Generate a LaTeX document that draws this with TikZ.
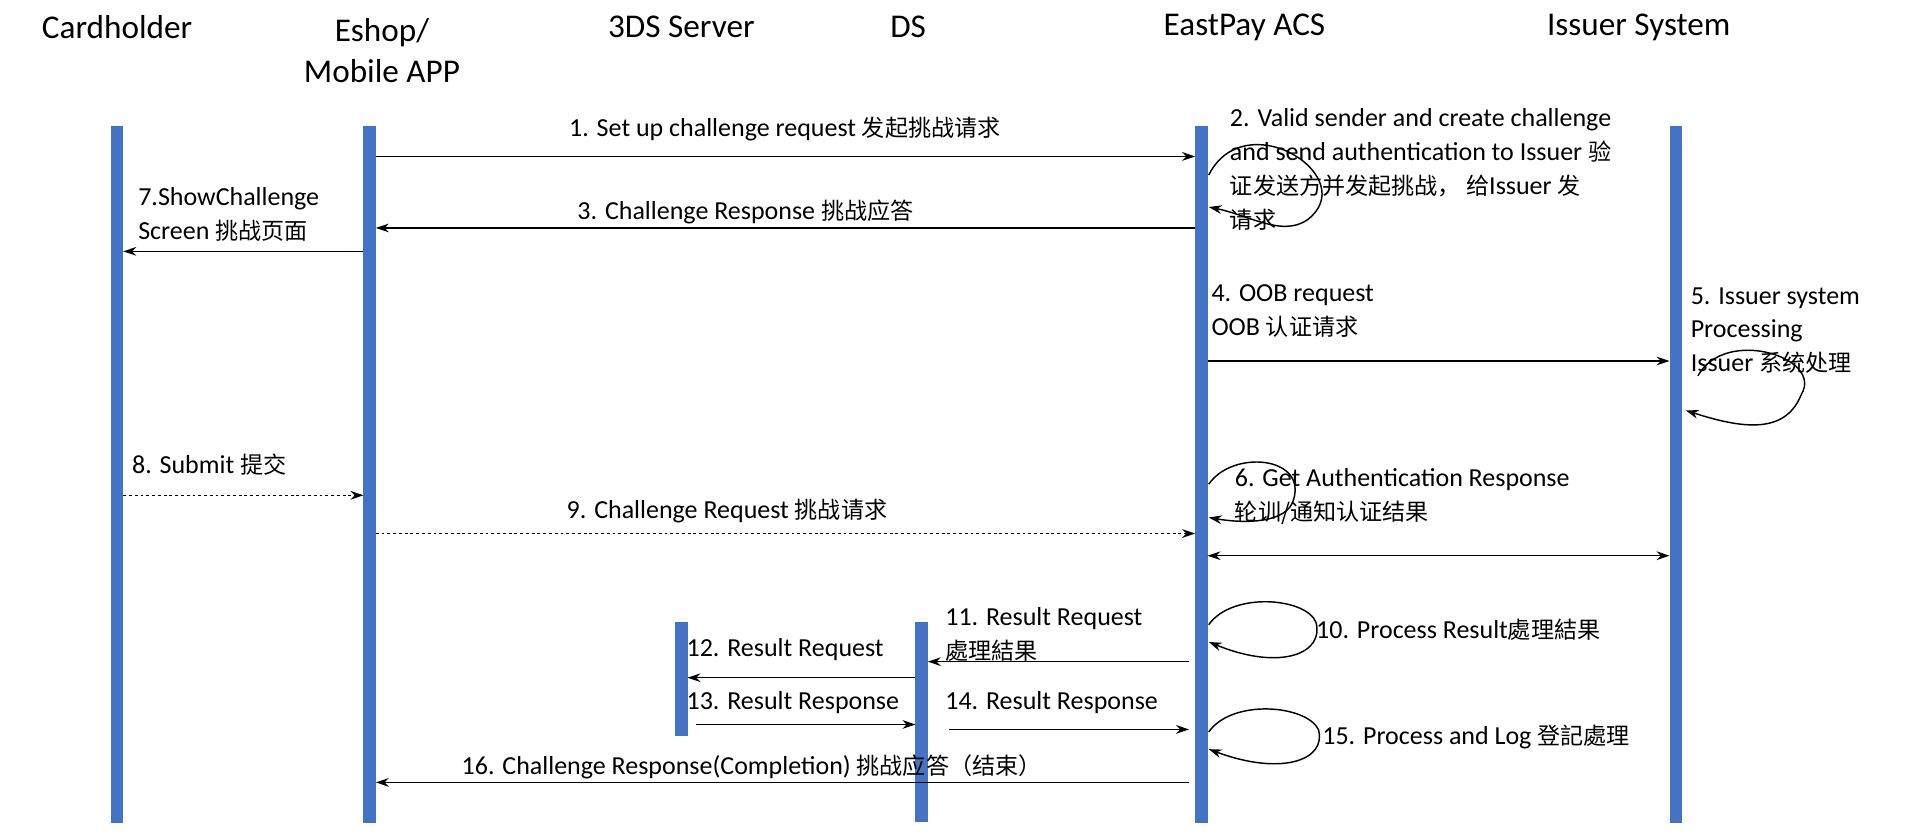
\documentclass[tikz,border=0pt]{standalone}
\usepackage{fontspec}
\setmainfont{Carlito}
\newfontfamily\cjk{Noto Sans CJK SC}
\usetikzlibrary{arrows.meta}
\newcommand{\zh}[1]{{\cjk\fontsize{16}{23}\selectfont #1}}
\begin{document}
\begin{tikzpicture}[x=0.03cm,y=-0.03cm,
  life/.style={draw=none,fill={rgb,255:red,68;green,114;blue,196}},
  head/.style={font=\fontsize{23}{27}\selectfont,align=center},
  lab/.style={font=\fontsize{18}{23.5}\selectfont,inner sep=0pt},
  msg/.style={-{Stealth[length=9pt,width=6pt]},line width=1.1pt},
  dmsg/.style={msg,dash pattern=on 2pt off 2pt},
  loop/.style={-{Stealth[length=9pt,width=6pt]},line width=1pt}]
\useasboundingbox (0,0) rectangle (1568,675);
% lifelines
\fill[life] (90,102) rectangle (100,668);
\fill[life] (295,102) rectangle (305,668);
\fill[life] (548,505) rectangle (558,597);
\fill[life] (743,505) rectangle (753,667);
\fill[life] (970,102) rectangle (980,668);
\fill[life] (1355,102) rectangle (1365,668);
% headers
\node[head] (hc) at (95,22) {Cardholder};
\node[head] (he) at (310,41) {Eshop/\\[1pt]Mobile APP};
\node[head] (hs) at (553,22) {3DS Server};
\node[head] (hd) at (737,22) {DS};
\node[head] (ha) at (1010,22) {EastPay ACS};
\node[head] (hi) at (1330,22) {Issuer System};
% anchor coordinates
\coordinate (e1) at (305,127); \coordinate (a1) at (970,127);
\coordinate (a3) at (970,185); \coordinate (e3) at (305,185);
\coordinate (e7) at (295,204); \coordinate (c7) at (100,204);
\coordinate (a4) at (980,293); \coordinate (i4) at (1355,293);
\coordinate (c8) at (100,402); \coordinate (e8) at (295,402);
\coordinate (e9) at (305,433); \coordinate (a9) at (970,433);
\coordinate (a6) at (980,451); \coordinate (i6) at (1355,451);
\coordinate (a11) at (965,537); \coordinate (d11) at (753,537);
\coordinate (d12) at (743,550); \coordinate (s12) at (558,550);
\coordinate (s13) at (565,588); \coordinate (d13) at (743,588);
\coordinate (d14) at (770,592); \coordinate (a14) at (965,592);
\coordinate (a16) at (965,635); \coordinate (e16) at (305,635);
% messages
\draw[msg] (e1) -- (a1);
\node[lab] (l1) at (637,105) {1. Set up challenge request \zh{发起挑战请求}};
\draw[msg] (a3) -- (e3);
\node[lab] (l3) at (605,172) {3. Challenge Response \zh{挑战应答}};
\draw[msg] (e7) -- (c7);
\node[lab,anchor=north west,align=left] (l7) at (112,152) {7.ShowChallenge\\Screen \zh{挑战页面}};
\draw[msg] (a4) -- (i4);
\node[lab,anchor=north west,align=left] (l4) at (983,231) {4. OOB request\\OOB \zh{认证请求}};
\draw[dmsg] (c8) -- (e8);
\node[lab,anchor=west] (l8) at (107,377) {8. Submit \zh{提交}};
\draw[dmsg] (e9) -- (a9);
\node[lab] (l9) at (590,415) {9. Challenge Request \zh{挑战请求}};
\draw[{Stealth[length=9pt,width=6pt]}-{Stealth[length=9pt,width=6pt]},line width=1.1pt] (a6) -- (i6);
\draw[msg] (a11) -- (d11);
\node[lab,anchor=north west,align=left] (l11) at (767,493) {11. Result Request\\\zh{處理結果}};
\draw[msg] (d12) -- (s12);
\node[lab,anchor=west] (l12) at (557,527) {12. Result Request};
\draw[msg] (s13) -- (d13);
\node[lab,anchor=west] (l13) at (557,570) {13. Result Response};
\draw[msg] (d14) -- (a14);
\node[lab,anchor=west] (l14) at (767,570) {14. Result Response};
\draw[msg] (a16) -- (e16);
\node[lab] (l16) at (610,622) {16. Challenge Response(Completion) \zh{挑战应答（结束）}};
% self loops
\coordinate (s2a) at (981,142); \coordinate (s2b) at (981,168);
\draw[loop] (s2a) .. controls (1010,85) and (1100,140) .. (1065,175) .. controls (1045,195) and (1015,175) .. (s2b);
\node[lab,anchor=north west,align=left] (l2) at (998,88) {2. Valid sender and create challenge\\and send authentication to Issuer \zh{验}\\\zh{证发送方并发起挑战，\ 给}Issuer \zh{发}\\\zh{请求}};
\coordinate (s5b) at (1368,333);
\draw[loop] (1378,305) .. controls (1400,265) and (1480,290) .. (1462,320) .. controls (1450,350) and (1420,350) .. (s5b);
\node[lab,anchor=north west,align=left] (l5) at (1372,233) {5. Issuer system\\Processing\\Issuer \zh{系统处理}};
\coordinate (s6a) at (981,393); \coordinate (s6b) at (981,420);
\draw[loop] (s6a) .. controls (1000,365) and (1060,370) .. (1050,405) .. controls (1045,425) and (1010,425) .. (s6b);
\node[lab,anchor=north west,align=left] (l6) at (1002,380) {6. Get Authentication Response\\\zh{轮训/通知认证结果}};
\coordinate (s10a) at (981,507); \coordinate (s10b) at (981,521);
\draw[loop] (s10a) .. controls (1000,480) and (1060,485) .. (1068,505) .. controls (1075,530) and (1040,545) .. (s10b);
\node[lab,anchor=west] (l10) at (1068,511) {10. Process Result\zh{處理結果}};
\coordinate (s15a) at (981,594); \coordinate (s15b) at (981,608);
\draw[loop] (s15a) .. controls (1000,567) and (1060,572) .. (1070,592) .. controls (1077,617) and (1040,630) .. (s15b);
\node[lab,anchor=west] (l15) at (1073,598) {15. Process and Log \zh{登記處理}};
\end{tikzpicture}
\end{document}
